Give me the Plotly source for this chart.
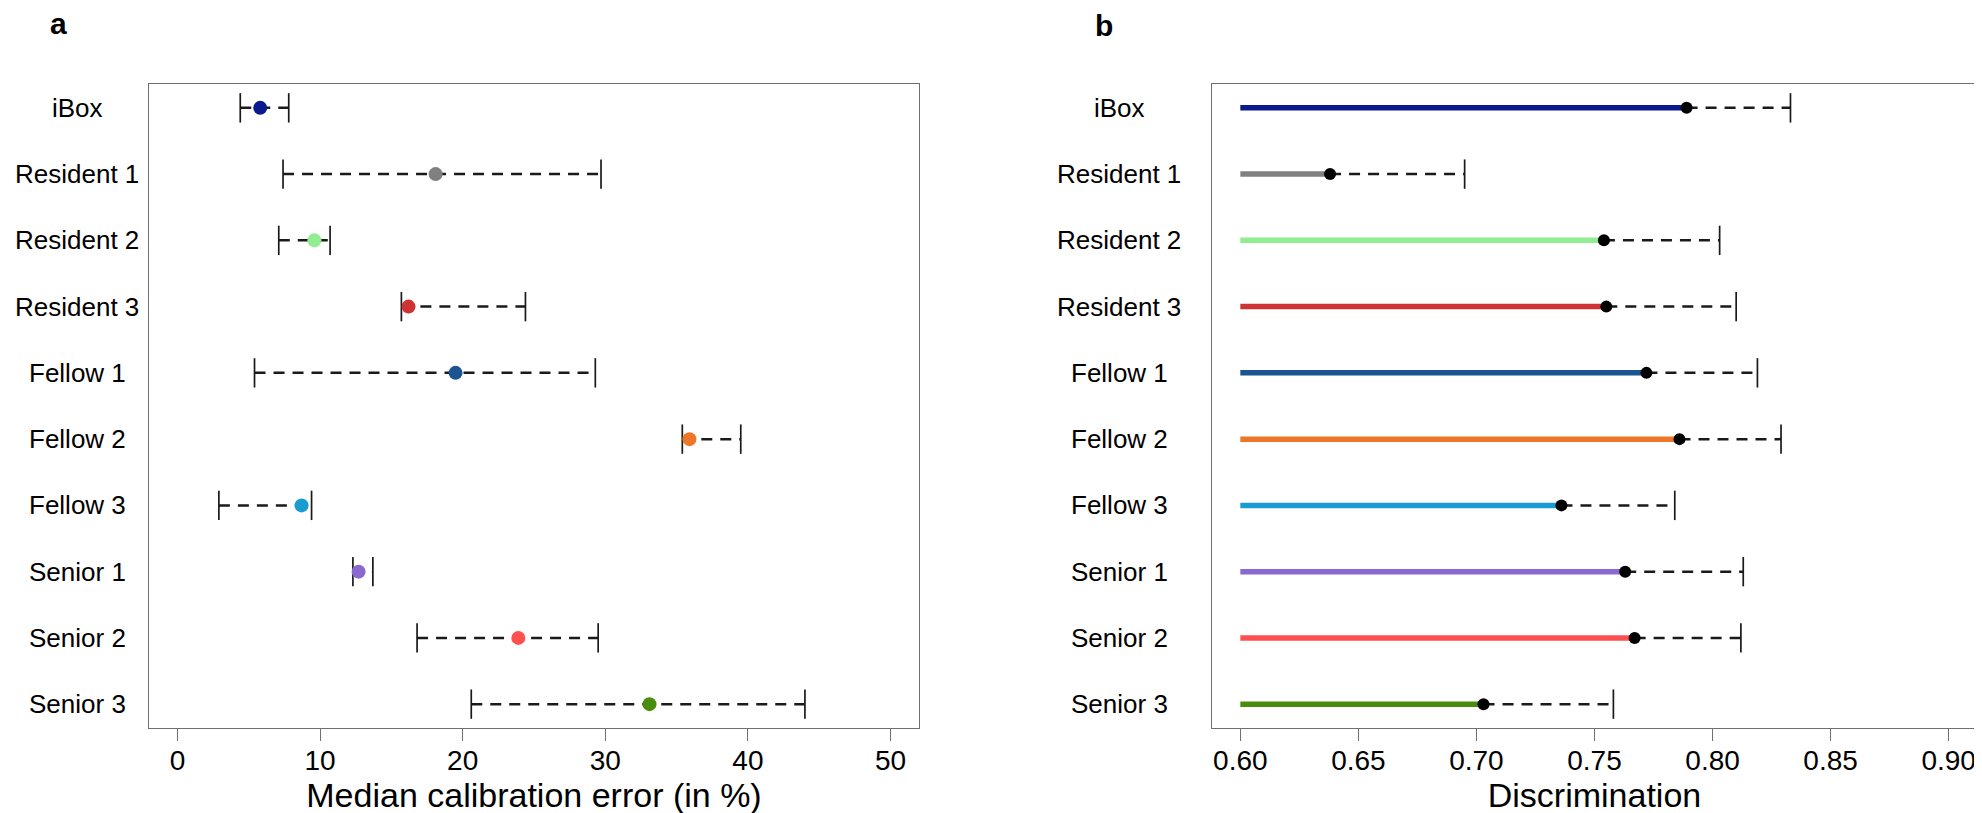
import plotly.graph_objects as go

W, H = 1982, 813
OFF = 8  # page body margin in the browser shifts the figure by this much

categories = ["iBox", "Resident 1", "Resident 2", "Resident 3", "Fellow 1",
              "Fellow 2", "Fellow 3", "Senior 1", "Senior 2", "Senior 3"]
colors = ["#0a1a8c", "#808080", "#90ee90", "#cd3333", "#1c5491",
          "#ee7628", "#1a9bd2", "#8b68cf", "#ff4f4f", "#4a8c0d"]

# Panel a: median calibration error (%) with interval
cal_median = [5.8, 18.1, 9.6, 16.2, 19.5, 35.9, 8.7, 12.7, 23.9, 33.1]
cal_low = [4.4, 7.4, 7.1, 15.7, 5.4, 35.4, 2.9, 12.3, 16.8, 20.6]
cal_high = [7.8, 29.7, 10.7, 24.4, 29.3, 39.5, 9.4, 13.7, 29.5, 44.0]

# Panel b: discrimination with upper bound
disc_value = [0.789, 0.638, 0.754, 0.755, 0.772, 0.786, 0.736, 0.763, 0.767, 0.703]
disc_high = [0.833, 0.695, 0.803, 0.810, 0.819, 0.829, 0.784, 0.813, 0.812, 0.758]
disc_base = 0.60

cal_ticks = [0, 10, 20, 30, 40, 50]
disc_ticks = [0.60, 0.65, 0.70, 0.75, 0.80, 0.85, 0.90]
disc_ticktext = ["0.60", "0.65", "0.70", "0.75", "0.80", "0.85", "0.90"]

FONT = "Liberation Sans, Arial, Helvetica, sans-serif"
INK = "#1a1a1a"
FRAME = "#707070"
DASH = "11px,8px"


def px(x):
    return (x - OFF) / W


def py(y):
    return 1 - (y - OFF) / H


fig = go.Figure()

# ---- panel a ----
dx, dy = [], []
for c, lo, hi in zip(categories, cal_low, cal_high):
    dx += [lo, hi, None]
    dy += [c, c, None]
fig.add_trace(go.Scatter(x=dx, y=dy, mode="lines", xaxis="x", yaxis="y",
                         line=dict(color=INK, width=2.5, dash=DASH),
                         hoverinfo="skip", showlegend=False))
fig.add_trace(go.Scatter(x=cal_low + cal_high, y=categories + categories, mode="markers",
                         xaxis="x", yaxis="y",
                         marker=dict(symbol="line-ns-open", size=21, color=INK,
                                     line=dict(color=INK, width=1.7)),
                         hoverinfo="skip", showlegend=False))
fig.add_trace(go.Scatter(x=cal_median, y=categories, mode="markers", xaxis="x", yaxis="y",
                         marker=dict(color=colors, size=14, line=dict(width=0)),
                         showlegend=False))

# ---- panel b ----
for c, v, col in zip(categories, disc_value, colors):
    fig.add_trace(go.Scatter(x=[disc_base, v], y=[c, c], mode="lines", xaxis="x2", yaxis="y2",
                             line=dict(color=col, width=5.5), showlegend=False))
dx, dy = [], []
for c, v, hi in zip(categories, disc_value, disc_high):
    dx += [v, hi, None]
    dy += [c, c, None]
fig.add_trace(go.Scatter(x=dx, y=dy, mode="lines", xaxis="x2", yaxis="y2",
                         line=dict(color=INK, width=2.5, dash=DASH),
                         hoverinfo="skip", showlegend=False))
fig.add_trace(go.Scatter(x=disc_high, y=categories, mode="markers", xaxis="x2", yaxis="y2",
                         marker=dict(symbol="line-ns-open", size=21, color=INK,
                                     line=dict(color=INK, width=1.7)),
                         hoverinfo="skip", showlegend=False))
fig.add_trace(go.Scatter(x=disc_value, y=categories, mode="markers", xaxis="x2", yaxis="y2",
                         marker=dict(color="black", size=12, line=dict(width=0)),
                         showlegend=False))

ydom = [py(728), py(84)]
frame = dict(showline=True, linecolor=FRAME, linewidth=1.4, mirror=True,
             showgrid=False, zeroline=False)
xcommon = dict(ticks="outside", ticklen=12, tickwidth=1.3, tickcolor=FRAME,
               tickfont=dict(size=28, color="black", family=FONT),
               title_font=dict(size=34, color="black", family=FONT),
               title_standoff=2, ticklabelstandoff=-5, **frame)
ycommon = dict(type="category", categoryorder="array", categoryarray=categories,
               range=[9.36, -0.36], showticklabels=False, ticks="", **frame)

fig.update_layout(
    width=W, height=H,
    margin=dict(l=0, r=0, t=0, b=0),
    paper_bgcolor="white", plot_bgcolor="white",
    font=dict(family=FONT, color="black"),
    xaxis=dict(domain=[px(149), px(919)], range=[-2, 52], tickvals=cal_ticks,
               title_text="Median calibration error (in %)", anchor="y", **xcommon),
    yaxis=dict(domain=ydom, anchor="x", **ycommon),
    xaxis2=dict(domain=[px(1212), px(1977)], range=[0.588, 0.912], tickvals=disc_ticks,
                ticktext=disc_ticktext, title_text="Discrimination", anchor="y2", **xcommon),
    yaxis2=dict(domain=ydom, anchor="x2", **ycommon),
)

annotations = []
for i, c in enumerate(categories):
    annotations.append(dict(x=px(77), xref="paper", y=i, yref="y", text=c, showarrow=False,
                            xanchor="center", yanchor="middle",
                            font=dict(size=26, color="black", family=FONT)))
    annotations.append(dict(x=px(1119), xref="paper", y=i, yref="y2", text=c, showarrow=False,
                            xanchor="center", yanchor="middle",
                            font=dict(size=26, color="black", family=FONT)))
annotations.append(dict(x=px(58), y=py(24), xref="paper", yref="paper", text="<b>a</b>",
                        showarrow=False, xanchor="center", yanchor="middle",
                        font=dict(size=30, color="black", family=FONT)))
annotations.append(dict(x=px(1104), y=py(25), xref="paper", yref="paper", text="<b>b</b>",
                        showarrow=False, xanchor="center", yanchor="middle",
                        font=dict(size=30, color="black", family=FONT)))
fig.update_layout(annotations=annotations)

fig.write_html("out.html")
